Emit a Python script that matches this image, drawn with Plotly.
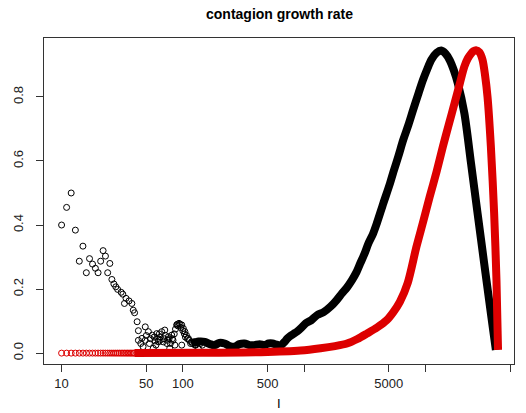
import plotly.graph_objects as go

# Observed growth rate at low counts (individual points)
obs_I_sparse = [10, 11, 12, 13, 14, 15, 16, 17, 18, 19, 20, 21, 22, 23, 24, 25,
                26, 27, 28, 29, 31, 32, 33, 34, 36, 38, 39, 40, 42, 43, 43, 46,
                47, 49, 49, 52, 56, 57, 59, 61, 65, 65, 67, 69, 71, 76, 78, 81,
                83, 86, 89, 93, 98, 98, 101, 104, 107, 111, 118, 126, 134,
                45, 50, 53, 54, 58, 60, 62, 63, 64, 70, 72, 74, 75, 77, 79, 82,
                85, 87, 90, 91, 95, 96, 100, 103, 105, 109, 113, 116, 120, 124,
                128, 140, 145]
obs_r_sparse = [0.400, 0.455, 0.500, 0.384, 0.287, 0.334, 0.251, 0.295, 0.278, 0.265,
                0.251, 0.287, 0.320, 0.303, 0.251, 0.280, 0.230, 0.216, 0.207, 0.199,
                0.190, 0.184, 0.155, 0.171, 0.163, 0.155, 0.134, 0.126, 0.098, 0.070,
                0.040, 0.046, 0.020, 0.082, 0.040, 0.067, 0.056, 0.015, 0.038, 0.061,
                0.051, 0.040, 0.067, 0.035, 0.072, 0.051, 0.015, 0.056, 0.040, 0.025,
                0.088, 0.093, 0.088, 0.025, 0.077, 0.067, 0.056, 0.046, 0.035, 0.025,
                0.015,
                0.030, 0.055, 0.030, 0.045, 0.050, 0.025, 0.045, 0.035, 0.060, 0.045,
                0.055, 0.030, 0.040, 0.045, 0.030, 0.045, 0.060, 0.075, 0.090, 0.085,
                0.090, 0.080, 0.070, 0.060, 0.050, 0.045, 0.040, 0.030, 0.030, 0.035,
                0.025, 0.030, 0.025]

# Observed growth rate, dense part of the record
obs_I_dense = [118, 135, 152, 167, 183, 200, 221, 243, 267, 293, 322, 355, 389,
               430, 470, 510, 550, 600, 645, 690, 730, 780, 826, 880, 938, 1030,
               1150, 1285, 1450, 1652, 1850, 2057, 2260, 2484, 2700, 2905, 3150,
               3398, 3700, 3980, 4508, 5115, 5450, 6000, 6580, 7250, 7930, 8700,
               9570, 10400, 11210, 12400, 13540, 14700, 15850, 17200, 18540, 21000,
               23830, 26980, 30600, 34750, 38200]
obs_r_dense = [0.030, 0.036, 0.035, 0.028, 0.025, 0.032, 0.030, 0.022, 0.020, 0.028,
               0.030, 0.025, 0.025, 0.028, 0.025, 0.030, 0.030, 0.026, 0.025, 0.035,
               0.046, 0.055, 0.061, 0.068, 0.077, 0.093, 0.103, 0.119, 0.128, 0.145,
               0.165, 0.187, 0.205, 0.228, 0.252, 0.280, 0.310, 0.343, 0.372, 0.405,
               0.468, 0.530, 0.565, 0.615, 0.666, 0.712, 0.759, 0.806, 0.853, 0.888,
               0.916, 0.938, 0.945, 0.935, 0.916, 0.883, 0.843, 0.749, 0.593, 0.437,
               0.280, 0.124, 0.010]

# Model growth rate
model_I_sparse = [10, 11, 12, 13, 14, 15, 16, 17, 18, 19, 20, 21, 22, 23, 24, 25,
                  26, 27, 28, 29, 30, 31, 32, 33, 34, 35, 36, 37, 38, 39, 40]
model_r_sparse = [0.0] * len(model_I_sparse)

model_I_dense = [40, 142, 440, 938, 1368, 1800, 2260, 2750, 3300, 4000, 4810, 5450,
                 6170, 7170, 8450, 9600, 10870, 12400, 13970, 15600, 17420, 19200,
                 21000, 22400, 23830, 25000, 26180, 27900, 29650, 31100, 32600,
                 34740, 36960, 38640, 39800]
model_r_dense = [0.0, 0.001, 0.003, 0.008, 0.015, 0.022, 0.030, 0.044, 0.061, 0.080,
                 0.103, 0.128, 0.160, 0.220, 0.332, 0.410, 0.488, 0.567, 0.645, 0.713,
                 0.780, 0.840, 0.895, 0.920, 0.935, 0.943, 0.946, 0.940, 0.916, 0.868,
                 0.800, 0.645, 0.437, 0.228, 0.010]

x_tickvals = [10, 50, 100, 500, 1000, 5000, 10000, 50000]
x_ticktext = ["10", "50", "100", "500", "", "5000", "", "50000"]
y_tickvals = [0.0, 0.2, 0.4, 0.6, 0.8]
y_ticktext = ["0.0", "0.2", "0.4", "0.6", "0.8"]

BLACK = "#000000"
RED = "#DD0000"
FONT = "Liberation Sans, Arial, Helvetica, sans-serif"

fig = go.Figure()

fig.add_trace(go.Scatter(
    x=obs_I_dense, y=obs_r_dense, mode="lines",
    line=dict(color=BLACK, width=8, shape="spline", smoothing=0.8),
    hoverinfo="skip", showlegend=False))
fig.add_trace(go.Scatter(
    x=obs_I_sparse, y=obs_r_sparse, mode="markers",
    marker=dict(symbol="circle-open", size=6, color=BLACK, line=dict(width=1)),
    showlegend=False))
fig.add_trace(go.Scatter(
    x=model_I_dense, y=model_r_dense, mode="lines",
    line=dict(color=RED, width=8, shape="spline", smoothing=0.8),
    hoverinfo="skip", showlegend=False))
fig.add_trace(go.Scatter(
    x=model_I_sparse, y=model_r_sparse, mode="markers",
    marker=dict(symbol="circle-open", size=6, color=RED, line=dict(width=1)),
    showlegend=False))

axis_common = dict(
    showline=True, mirror=True, linecolor="#333333", linewidth=1,
    ticks="outside", ticklen=7, tickcolor="#333333", tickwidth=1,
    showgrid=False, zeroline=False,
    tickfont=dict(family=FONT, size=13, color="#222222"),
)

fig.update_xaxes(type="log", range=[0.855, 4.7316],
                 tickmode="array", tickvals=x_tickvals, ticktext=x_ticktext,
                 **axis_common)
fig.update_yaxes(range=[-0.034, 0.984],
                 tickmode="array", tickvals=y_tickvals, ticktext=y_ticktext,
                 tickangle=-90, ticklabelstandoff=8,
                 **axis_common)

fig.add_annotation(text="<b>contagion growth rate</b>", xref="paper", yref="paper",
                   x=0.5, y=1.0, yshift=24, showarrow=False,
                   font=dict(family=FONT, size=14, color="#000000"),
                   xanchor="center", yanchor="middle")
fig.add_annotation(text="I", xref="paper", yref="paper",
                   x=0.5, y=-0.1503, showarrow=False,
                   font=dict(family=FONT, size=13, color="#000000"),
                   xanchor="center", yanchor="bottom")

fig.update_layout(
    width=526, height=413,
    margin=dict(l=41, r=11, t=38, b=49),
    paper_bgcolor="white", plot_bgcolor="white",
    showlegend=False,
)

fig.write_html("out.html")
